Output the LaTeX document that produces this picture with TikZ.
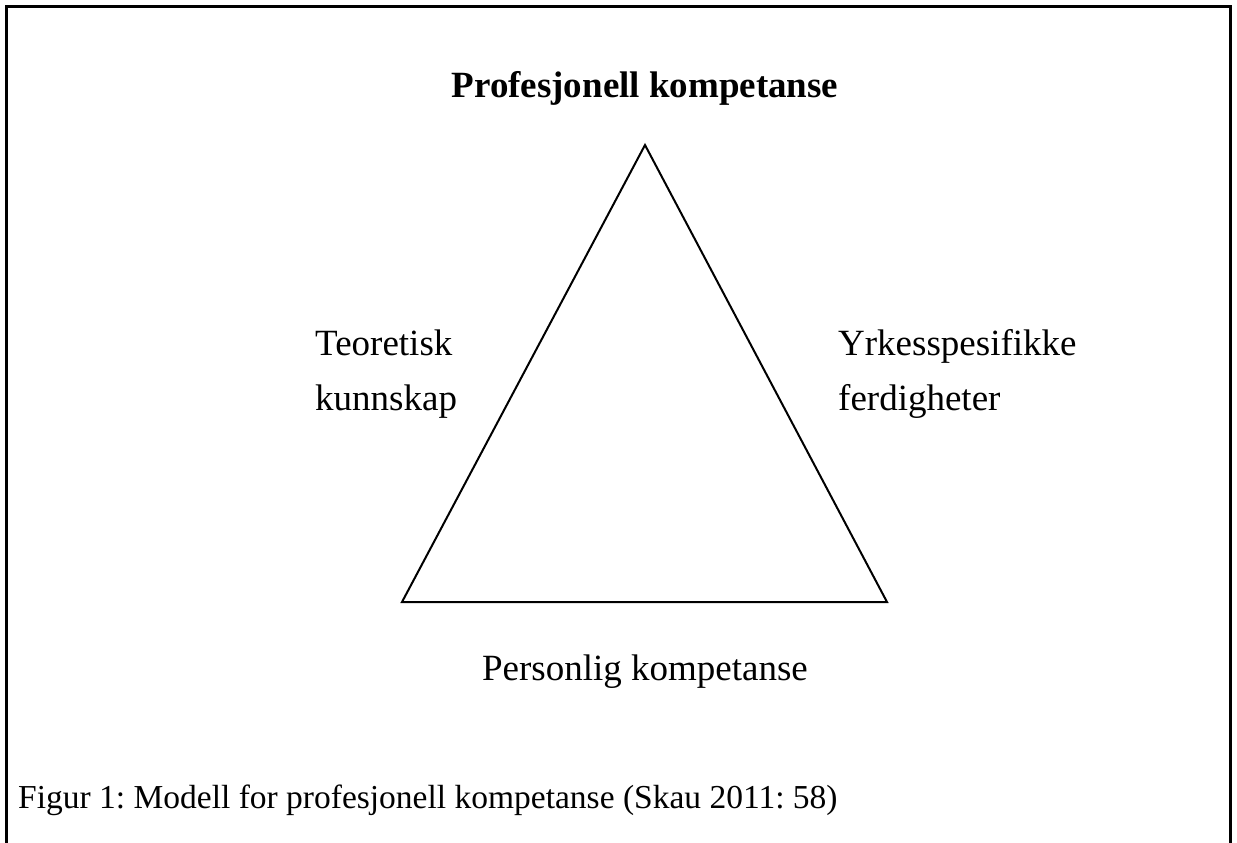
\documentclass[tikz,border=0pt]{standalone}
\usepackage{fontspec}
\setmainfont{Liberation Serif}
\frenchspacing
\newcommand{\labelfont}{\fontsize{37}{55}\selectfont}
\newcommand{\captionfont}{\fontsize{33.5}{40}\selectfont}

\begin{document}
\begin{tikzpicture}[x=1pt, y=-1pt,
    frameline/.style={line width=3pt, line cap=rect},
    triline/.style={line width=2pt, line join=miter},
    lbl/.style={inner sep=0pt, font=\labelfont}]
      \useasboundingbox (0, 0) rectangle (1237, 843);
      % frame (open at the bottom)
      \draw [frameline] (6, 843) -- (6, 7) -- (1230, 7) -- (1230, 843);
      % triangle
      \coordinate (apex) at (645, 145);
      \coordinate (left) at (402, 602);
      \coordinate (right) at (887, 602);
      \draw [triline] (apex) -- (left) -- (right) -- cycle;
      % labels
      \node [lbl, anchor=base] (top) at (645, 97) {\textbf{Profesjonell kompetanse}};
      \node [lbl, anchor=base west, align=left] (theory) at (315, 410) {Teoretisk\\kunnskap};
      \node [lbl, anchor=base west, align=left] (skills) at (838, 410) {Yrkesspesifikke\\ferdigheter};
      \node [lbl, anchor=base] (personal) at (645, 680) {Personlig kompetanse};
      % caption
      \node [inner sep=0pt, anchor=base west, font=\captionfont] (caption) at (18, 808) {Figur 1: Modell for profesjonell kompetanse (Skau 2011: 58)};
\end{tikzpicture}
\end{document}
